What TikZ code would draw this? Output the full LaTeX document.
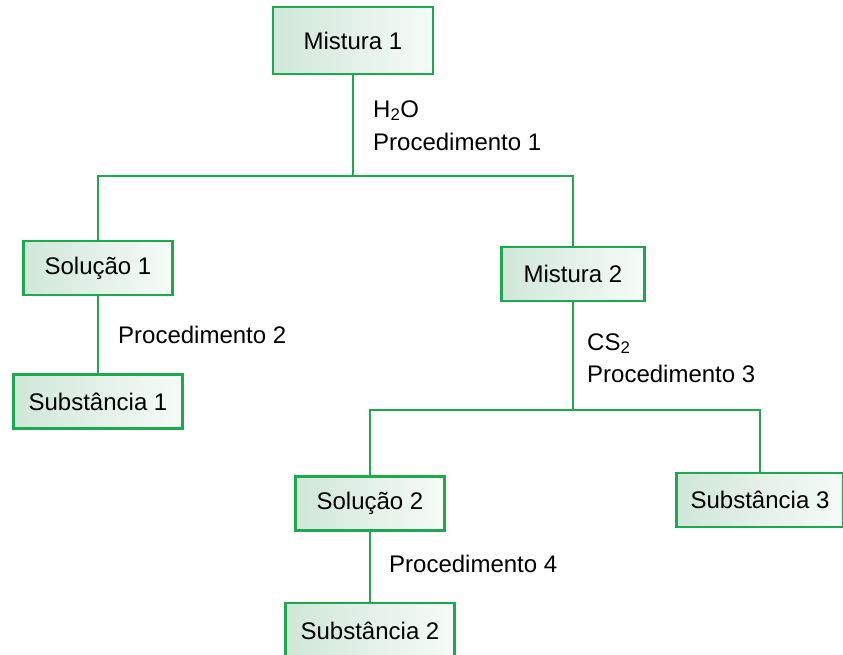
\documentclass[tikz,border=0pt]{standalone}
\usepackage{fontspec}
\setmainfont{Liberation Sans}
\usepackage{tikz}
\usetikzlibrary{positioning}
\definecolor{sepgreen}{RGB}{30,168,80}
\definecolor{sepfill}{RGB}{208,231,216}
\definecolor{seplight}{RGB}{246,251,248}
\tikzstyle{box} = [rectangle, minimum height=54pt, inner sep=0pt, text centered, draw=sepgreen, left color=sepfill, right color=seplight, line width=2.6pt]
\tikzstyle{link} = [line width=2.6pt, color=sepgreen]
\tikzstyle{note} = [anchor=base west, inner sep=0pt]

\begin{document}
\begin{tikzpicture}[x=1pt, y=-1pt, font=\fontsize{24}{29}\selectfont]
\useasboundingbox (0,0) rectangle (843,654);
% First separation
\node[box, minimum width=160pt, minimum height=67pt] (mist1) at (353,40.5) {Mistura 1};
\node[box, minimum width=149pt] (sol1) at (98,268) {Solução 1};
\node[box, minimum width=143pt] (mist2) at (573,274) {Mistura 2};
\coordinate (split1) at (353,176);
\draw[link] (mist1.south) -- (split1);
\draw[link] (sol1.north) |- (split1) -| (mist2.north);
\node[note] (water) at (373,117) {H\textsubscript{2}O};
\node[note] (proc1) at (373,150) {Procedimento 1};

% Branch of solution 1
\node[box, minimum width=169pt] (sub1) at (98,401.5) {Substância 1};
\draw[link] (sol1) -- (sub1);
\node[note] (proc2) at (118,343) {Procedimento 2};

% Second separation
\node[box, minimum width=149pt] (sol2) at (370,503.5) {Solução 2};
\node[box, minimum width=167pt] (sub3) at (760,500) {Substância 3};
\coordinate (split2) at (573,410);
\draw[link] (mist2.south) -- (split2);
\draw[link] (sol2.north) |- (split2) -| (sub3.north);
\node[note] (solvent) at (587,350) {CS\textsubscript{2}};
\node[note] (proc3) at (587,382) {Procedimento 3};

% Branch of solution 2
\node[box, minimum width=169pt, minimum height=55pt] (sub2) at (370,630.5) {Substância 2};
\draw[link] (sol2) -- (sub2);
\node[note] (proc4) at (389,572) {Procedimento 4};
\end{tikzpicture}
\end{document}
